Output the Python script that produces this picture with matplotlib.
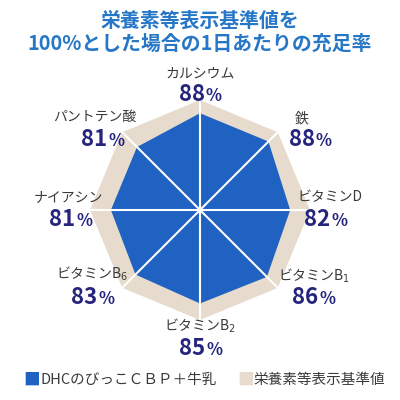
import numpy as np
import matplotlib
matplotlib.use('Agg')
import matplotlib.pyplot as plt

plt.rcParams['font.family'] = ['Noto Sans CJK JP', 'DejaVu Sans']

# dados
nutrientes = ['カルシウム', '鉄', 'ビタミンD', 'ビタミンB1', 'ビタミンB2', 'ビタミンB6', 'ナイアシン', 'パントテン酸']
nomes = ['カルシウム', '鉄', 'ビタミンD', 'ビタミンB$_1$', 'ビタミンB$_2$', 'ビタミンB$_6$', 'ナイアシン', 'パントテン酸']
valores = [88, 88, 82, 86, 85, 83, 81, 81]
referencia = [100] * 8

azul = '#1f62c2'
bege = '#e6dbcc'
marinho = '#26257e'

angulos = np.linspace(0, 2 * np.pi, len(nutrientes), endpoint=False)
ang_f = np.append(angulos, angulos[0])

fig = plt.figure(figsize=(4, 4), dpi=100)
ax = fig.add_axes([0.225, 0.2, 0.55, 0.55], projection='polar')
ax.set_theta_zero_location('N')
ax.set_theta_direction(-1)
ax.set_ylim(0, 100)

ax.fill(ang_f, np.append(referencia, referencia[0]), color=bege, lw=0)
ax.fill(ang_f, np.append(valores, valores[0]), color=azul, lw=0)
for a in angulos:
    ax.plot([a, a], [0, 100], color='white', lw=1.5)

ax.grid(False)
ax.set_xticks([])
ax.set_yticks([])
ax.spines['polar'].set_visible(False)

# posições dos rótulos (pixels)
pos_nome = [(200, 74), (302, 118), (330, 197), (314, 276), (200, 326), (92, 274), (68, 197), (95, 117)]
pos_val = [(200, 95), (310, 140), (325, 220), (313, 298), (200, 349), (92, 298), (70, 220), (102, 140)]

renderer = fig.canvas.get_renderer()
for nome, v, (xn, yn), (xv, yv) in zip(nomes, valores, pos_nome, pos_val):
    fig.text(xn / 400, 1 - yn / 400, nome, ha='center', va='center', fontsize=10, color='#3a3a3a')
    # número + '%' menor, centrados juntos
    tn = fig.text(0, 1 - (yv + 6) / 400, str(v), ha='left', va='baseline', fontsize=16,
                  color=marinho, fontweight='bold')
    tp = fig.text(0, 1 - (yv + 6) / 400, '%', ha='left', va='baseline', fontsize=12,
                  color=marinho, fontweight='bold')
    wn = tn.get_window_extent(renderer).width
    wp = tp.get_window_extent(renderer).width
    x0 = xv - (wn + wp) / 2
    tn.set_x(x0 / 400)
    tp.set_x((x0 + wn + 1) / 400)

fig.text(0.5, 1 - 20 / 400, '栄養素等表示基準値を', ha='center', va='center',
         fontsize=14.3, color='#2677c7', fontweight='bold')
fig.text(0.5, 1 - 43 / 400, '100%とした場合の1日あたりの充足率', ha='center', va='center',
         fontsize=14.3, color='#2677c7', fontweight='bold')

# legenda
fig.text(23 / 400, 1 - 380 / 400, '■', ha='left', va='center', fontsize=12, color=azul)
fig.text(40 / 400, 1 - 380 / 400, 'DHCのびっこＣＢＰ＋牛乳', ha='left', va='center', fontsize=10.5, color='#3a3a3a')
fig.text(237 / 400, 1 - 380 / 400, '■', ha='left', va='center', fontsize=12, color=bege)
fig.text(254 / 400, 1 - 380 / 400, '栄養素等表示基準値', ha='left', va='center', fontsize=10.5, color='#3a3a3a')

fig.savefig('out.png', dpi=100, facecolor='white')
